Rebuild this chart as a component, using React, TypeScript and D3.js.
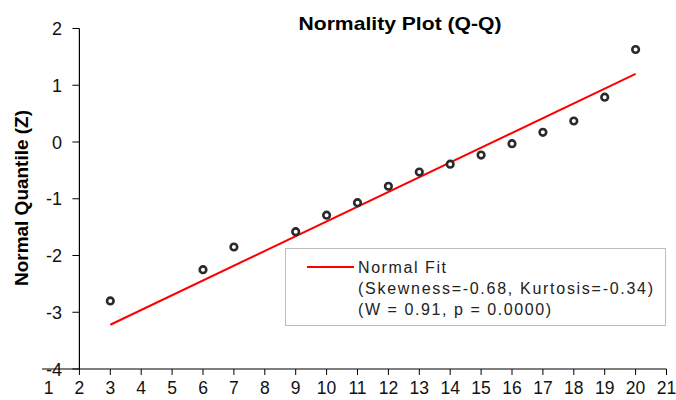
import React from "react";
import * as d3 from "d3";

const width = 676;
const height = 400;

const title = "Normality Plot (Q-Q)";
const yLabel = "Normal Quantile (Z)";

const xValues = [3, 6, 7, 9, 10, 11, 12, 13, 14, 15, 16, 17, 18, 19, 20];
const zValues = [-2.8, -2.25, -1.85, -1.58, -1.29, -1.07, -0.78, -0.53, -0.39, -0.23, -0.03, 0.17, 0.37, 0.79, 1.63];

// fitted normal line end points
const fitX = [3, 20];
const fitZ = [-3.22, 1.2];

const xTicks = d3.range(1, 22);
const yTicks = [2, 1, 0, -1, -2, -3, -4];

const legendLines = [
  "Normal Fit",
  "(Skewness=-0.68, Kurtosis=-0.34)",
  "(W = 0.91, p = 0.0000)",
];

const font = "'Liberation Sans', Arial, sans-serif";

export default function App() {
  const xScale = d3.scaleLinear().domain([1, 21]).range([48.5, 666.5]);
  const yScale = d3.scaleLinear().domain([-4, 2]).range([369, 28.5]);

  const axisX = xScale(2);
  const axisY = yScale(-4);

  const fitLine = d3
    .line<number>()
    .x((d) => xScale(d))
    .y((d, i) => yScale(fitZ[i]));

  return (
    <svg
      width={width}
      height={height}
      style={{ position: "absolute", left: 0, top: 0, background: "#fff" }}
      fontFamily={font}
    >
      <rect width={width} height={height} fill="#fff" />

      <text x={400} y={30} textAnchor="middle" fontWeight="bold" fontSize={19} textLength={203} lengthAdjust="spacingAndGlyphs">
        {title}
      </text>

      {/* y axis */}
      <line x1={axisX} x2={axisX} y1={yScale(2)} y2={axisY} stroke="#000" strokeWidth={1.2} />
      {yTicks.map((t) => (
        <g key={t}>
          <line x1={axisX - 7} x2={axisX} y1={yScale(t)} y2={yScale(t)} stroke="#000" strokeWidth={1} />
          <text x={62} y={yScale(t) + 6.5} textAnchor="end" fontSize={18} fill="#111">
            {t}
          </text>
        </g>
      ))}

      {/* x axis */}
      <line x1={42} x2={xScale(21)} y1={axisY} y2={axisY} stroke="#000" strokeWidth={1.2} />
      {xTicks.map((t) => (
        <g key={t}>
          {t > 1 && (
            <line x1={xScale(t)} x2={xScale(t)} y1={axisY} y2={axisY + 6} stroke="#000" strokeWidth={1} />
          )}
          <text x={xScale(t)} y={394} textAnchor="middle" fontSize={17.5} fill="#111">
            {t}
          </text>
        </g>
      ))}

      <text
        transform={`translate(28, 198) rotate(-90)`}
        textAnchor="middle"
        fontWeight="bold"
        fontSize={18}
        textLength={176}
        lengthAdjust="spacingAndGlyphs"
      >
        {yLabel}
      </text>

      {/* fit line */}
      <path d={fitLine(fitX) ?? ""} fill="none" stroke="#ff0000" strokeWidth={2} />

      {/* points */}
      {xValues.map((x, i) => (
        <circle
          key={x}
          cx={xScale(x)}
          cy={yScale(zValues[i])}
          r={3.3}
          fill="#fff"
          stroke="#2a2a2a"
          strokeWidth={2.6}
        />
      ))}

      {/* legend */}
      <rect x={285.5} y={248.5} width={380} height={77} fill="#fff" stroke="#bdbdbd" strokeWidth={1} />
      <line x1={307} x2={354} y1={267} y2={267} stroke="#ff0000" strokeWidth={2} />
      <text x={358} y={273} fontSize={16} fill="#222" textLength={88} lengthAdjust="spacing">
        {legendLines[0]}
      </text>
      <text x={358} y={294} fontSize={16} fill="#222" textLength={295} lengthAdjust="spacing">
        {legendLines[1]}
      </text>
      <text x={358} y={315} fontSize={16} fill="#222" textLength={193} lengthAdjust="spacing">
        {legendLines[2]}
      </text>
    </svg>
  );
}
